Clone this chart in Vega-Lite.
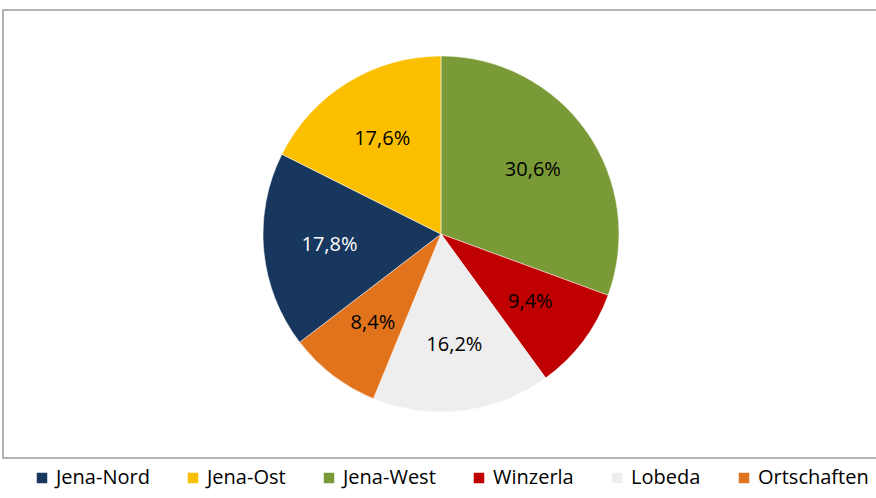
{
  "$schema": "https://vega.github.io/schema/vega-lite/v6.json",
  "width": 876,
  "height": 498,
  "autosize": {"type": "fit", "contains": "padding"},
  "padding": {"left": 3, "top": 10, "right": -3, "bottom": 0},
  "background": "white",
  "view": {"stroke": "#9a9a9a", "strokeWidth": 1.5},
  "config": {
    "view": {"stroke": "#9a9a9a", "strokeWidth": 1.5},
    "legend": {
      "orient": "bottom",
      "direction": "horizontal",
      "layout": {"bottom": {"anchor": "end"}},
      "labelFont": "Open Sans",
      "labelFontSize": 20,
      "labelColor": "#000000",
      "symbolType": "square",
      "symbolSize": 110,
      "symbolStrokeWidth": 0,
      "symbolOpacity": 1,
      "columnPadding": 33,
      "labelOffset": 4,
      "offset": 0,
      "padding": 10,
      "title": null
    }
  },
  "data": {
    "values": [
      {"Bezirk": "Jena-West", "Anteil": 30.6, "Label": "30,6%", "Reihenfolge": 1},
      {"Bezirk": "Winzerla", "Anteil": 9.4, "Label": "9,4%", "Reihenfolge": 2},
      {"Bezirk": "Lobeda", "Anteil": 16.2, "Label": "16,2%", "Reihenfolge": 3},
      {"Bezirk": "Ortschaften", "Anteil": 8.4, "Label": "8,4%", "Reihenfolge": 4},
      {"Bezirk": "Jena-Nord", "Anteil": 17.8, "Label": "17,8%", "Reihenfolge": 5},
      {"Bezirk": "Jena-Ost", "Anteil": 17.6, "Label": "17,6%", "Reihenfolge": 6}
    ]
  },
  "encoding": {
    "theta": {"field": "Anteil", "type": "quantitative", "stack": true},
    "order": {"field": "Reihenfolge", "type": "quantitative"}
  },
  "layer": [
    {
      "mark": {"type": "arc", "outerRadius": 178, "stroke": "#ffffff", "strokeWidth": 0.5},
      "encoding": {
        "color": {
          "field": "Bezirk",
          "type": "nominal",
          "scale": {
            "domain": ["Jena-Nord", "Jena-Ost", "Jena-West", "Winzerla", "Lobeda", "Ortschaften"],
            "range": ["#17375e", "#fbbf00", "#7a9a37", "#c00000", "#eeeeee", "#e2731d"]
          },
          "legend": {"title": null}
        }
      }
    },
    {
      "mark": {"type": "text", "radius": 112, "fontSize": 20, "font": "Open Sans"},
      "encoding": {
        "text": {"field": "Label", "type": "nominal"},
        "color": {
          "condition": {"test": "datum.Bezirk === 'Jena-Nord'", "value": "#ffffff"},
          "value": "#000000"
        }
      }
    }
  ]
}
